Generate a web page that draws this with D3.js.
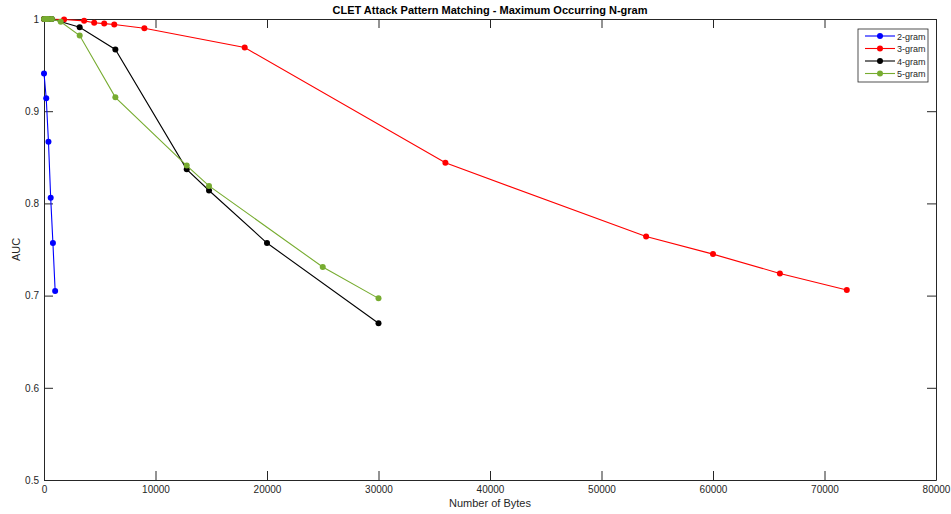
<!DOCTYPE html>
<html>
<head>
<meta charset="utf-8">
<script src="https://cdn.jsdelivr.net/npm/d3@7"></script>
<style>
  body { margin: 0; background: #fff; }
  svg { display: block; font-family: "Liberation Sans", Arial, sans-serif; }
  .axis path, .axis line { stroke: #262626; }
  .axis text { fill: #262626; font-size: 10px; }
</style>
</head>
<body>
<div id="chart"></div>
<script>
// series data: [bytes, auc]
const gram2 = [[0, 0.941], [200, 0.914], [400, 0.867], [600, 0.806], [800, 0.757], [1000, 0.705]];
const gram3 = [[0, 1.0], [1800, 0.9995], [3600, 0.998], [4500, 0.996], [5400, 0.995], [6300, 0.994],
  [9000, 0.990], [18000, 0.969], [36000, 0.844], [54000, 0.764], [60000, 0.745], [66000, 0.724], [72000, 0.706]];
const gram4 = [[0, 1.0], [400, 1.0], [700, 1.0], [3200, 0.991], [6400, 0.967], [12800, 0.837],
  [14800, 0.814], [20000, 0.757], [30000, 0.670]];
const gram5 = [[0, 1.0], [200, 1.0], [400, 1.0], [700, 1.0], [1500, 0.997], [3200, 0.982], [6400, 0.915],
  [12800, 0.841], [14800, 0.819], [25000, 0.731], [30000, 0.697]];

const seriesNames = ["2-gram", "3-gram", "4-gram", "5-gram"];
const seriesColors = ["#0000ff", "#ff0000", "#000000", "#77ac30"];
const seriesData = [gram2, gram3, gram4, gram5];

const xTicks = [0, 10000, 20000, 30000, 40000, 50000, 60000, 70000, 80000];
const yTicks = [0.5, 0.6, 0.7, 0.8, 0.9, 1];

const width = 951, height = 514;
const margin = { top: 19, right: 15, bottom: 34, left: 44 };
const innerW = width - margin.left - margin.right;
const innerH = height - margin.top - margin.bottom;

const svg = d3.select("#chart").append("svg")
  .attr("width", width)
  .attr("height", height);

const g = svg.append("g")
  .attr("transform", `translate(${margin.left},${margin.top})`);

const x = d3.scaleLinear().domain([0, 80000]).range([0, innerW]);
const y = d3.scaleLinear().domain([0.5, 1]).range([innerH, 0]);

const tickLen = 9;

// bottom axis, ticks pointing inwards
g.append("g").attr("class", "axis")
  .attr("transform", `translate(0,${innerH})`)
  .call(d3.axisBottom(x).tickValues(xTicks).tickFormat(d3.format("d"))
    .tickSizeInner(-tickLen).tickSizeOuter(0).tickPadding(6));

// top axis
g.append("g").attr("class", "axis")
  .call(d3.axisTop(x).tickValues(xTicks).tickFormat("")
    .tickSizeInner(-tickLen).tickSizeOuter(0));

// left axis
g.append("g").attr("class", "axis")
  .call(d3.axisLeft(y).tickValues(yTicks).tickFormat(d3.format("~g"))
    .tickSizeInner(-tickLen).tickSizeOuter(0).tickPadding(5));

// right axis
g.append("g").attr("class", "axis")
  .attr("transform", `translate(${innerW},0)`)
  .call(d3.axisRight(y).tickValues(yTicks).tickFormat("")
    .tickSizeInner(-tickLen).tickSizeOuter(0));

g.selectAll(".axis .domain").attr("stroke-width", 1);

const line = d3.line().x(d => x(d[0])).y(d => y(d[1]));

seriesData.forEach((data, i) => {
  g.append("path")
    .datum(data)
    .attr("fill", "none")
    .attr("stroke", seriesColors[i])
    .attr("stroke-width", 1.1)
    .attr("d", line);
  g.selectAll(null)
    .data(data)
    .join("circle")
    .attr("cx", d => x(d[0]))
    .attr("cy", d => y(d[1]))
    .attr("r", 3)
    .attr("fill", seriesColors[i]);
});

// title
svg.append("text")
  .attr("x", margin.left + innerW / 2)
  .attr("y", 14)
  .attr("text-anchor", "middle")
  .attr("font-size", "11px")
  .attr("font-weight", "bold")
  .attr("fill", "#000")
  .text("CLET Attack Pattern Matching - Maximum Occurring N-gram");

// axis labels
svg.append("text")
  .attr("x", margin.left + innerW / 2)
  .attr("y", 507)
  .attr("text-anchor", "middle")
  .attr("font-size", "11px")
  .attr("fill", "#262626")
  .text("Number of Bytes");

svg.append("text")
  .attr("transform", `translate(20,${margin.top + innerH / 2}) rotate(-90)`)
  .attr("text-anchor", "middle")
  .attr("font-size", "11px")
  .attr("fill", "#262626")
  .text("AUC");

// legend
const legend = svg.append("g").attr("transform", "translate(858,29)");
legend.append("rect")
  .attr("width", 70)
  .attr("height", 53)
  .attr("fill", "#fff")
  .attr("stroke", "#262626")
  .attr("stroke-width", 0.8);

seriesNames.forEach((name, i) => {
  const ly = 7 + i * 12.5;
  legend.append("line")
    .attr("x1", 7).attr("x2", 37)
    .attr("y1", ly).attr("y2", ly)
    .attr("stroke", seriesColors[i])
    .attr("stroke-width", 1.1);
  legend.append("circle")
    .attr("cx", 22).attr("cy", ly).attr("r", 3)
    .attr("fill", seriesColors[i]);
  legend.append("text")
    .attr("x", 39).attr("y", ly + 3.5)
    .attr("font-size", "9px")
    .attr("fill", "#262626")
    .text(name);
});
</script>
</body>
</html>
